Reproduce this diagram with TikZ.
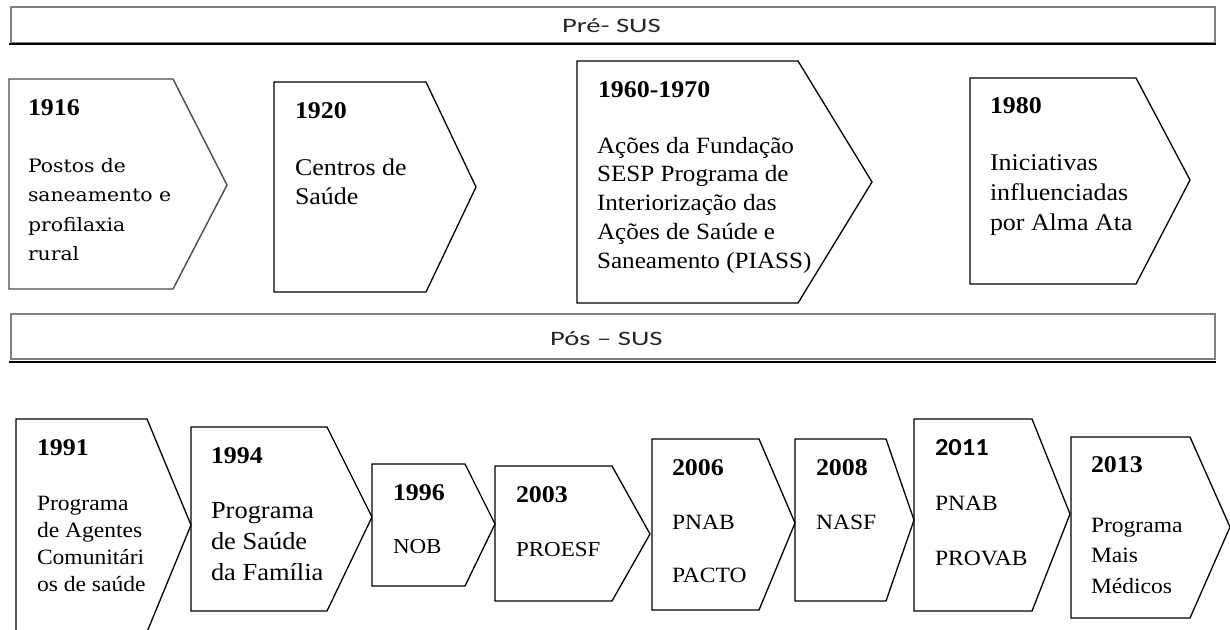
\documentclass[tikz,border=0pt]{standalone}
\usepackage{fontspec}
\setmainfont{Liberation Serif}[FakeStretch=1.08]
\newfontfamily\hdrfont{Carlito}[FakeStretch=1.4]
\newfontfamily\sansyr{Carlito}[FakeStretch=1.08]
\newfontfamily\oldfont{DejaVu Serif}[FakeStretch=1.1]
\newcommand\fs[2]{\fontsize{#1}{#2}\selectfont}
\newcommand\ml[1]{\begin{tabular}[t]{@{}l@{}}#1\end{tabular}}
% left, top, bottom, shoulder x, tip x, tip y
\newcommand\pent[7][pentline]{\draw[#1] (#2,#3) -- (#5,#3) -- (#6,#7) -- (#5,#4) -- (#2,#4) -- cycle;}
\begin{document}
\begin{tikzpicture}[x=1pt,y=-1pt,
  pentline/.style={draw=black,line width=1.3pt,line join=miter},
  oldline/.style={draw=black!70,line width=1.4pt,line join=miter},
  lbl/.style={anchor=base west,inner sep=0pt,outer sep=0pt},
  yrlbl/.style={lbl,font={\bfseries\fs{24}{28}}},
  hdr/.style={lbl,font={\hdrfont\fs{20.5}{24}},text=black!85},
]
\useasboundingbox (0,0) rectangle (1230,629);
\clip (0,0) rectangle (1230,629);
\fill[white] (0,0) rectangle (1230,629);

% header bars
\draw[gray,line width=1.2pt] (11,7) rectangle (1215,43);
\draw[black,line width=2.6pt] (9,44) -- (1216,44);
\node[hdr] (pre) at (562,32) {Pré- SUS};

\draw[gray,line width=1.2pt] (11,314) rectangle (1215,359);
\draw[black,line width=2.6pt] (9,362) -- (1216,362);
\node[hdr] (pos) at (550,345) {Pós – SUS};

% top row
\pent[oldline]{9}{79}{289}{173}{227}{185}
\node[yrlbl] (y1916) at (28,115) {1916};
\node[lbl,font={\oldfont\fs{18.5}{29.5}}] (t1916) at (28,172)
  {\ml{Postos de\\saneamento e\\profilaxia\\rural}};

\pent{274}{82}{292}{426}{476}{187}
\node[yrlbl] (y1920) at (295,118) {1920};
\node[lbl,font={\fs{24}{29}}] (t1920) at (295,175) {\ml{Centros de\\Saúde}};

\pent{577}{61}{303}{798}{872}{182}
\node[yrlbl] (y1960) at (598,97) {1960-1970};
\node[lbl,font={\fs{23.3}{28.75}}] (t1960) at (597,153)
  {\ml{Ações da Fundação\\SESP Programa de\\Interiorização das\\Ações de Saúde e\\Saneamento (PIASS)}};

\pent{970}{78}{284}{1136}{1190}{180}
\node[yrlbl] (y1980) at (990,113) {1980};
\node[lbl,font={\fs{24}{30}}] (t1980) at (990,170)
  {\ml{Iniciativas\\influenciadas\\por Alma Ata}};

% bottom row
\pent{16}{419}{632}{147}{191}{525}
\node[yrlbl] (y1991) at (37,455) {1991};
\node[lbl,font={\fs{21.8}{27.3}}] (t1991) at (37,510)
  {\ml{Programa\\de Agentes\\Comunitári\\os de saúde}};

\pent{191}{427}{611}{327}{372}{517}
\node[yrlbl] (y1994) at (211,463) {1994};
\node[lbl,font={\fs{24.5}{31}}] (t1994) at (211,518)
  {\ml{Programa\\de Saúde\\da Família}};

\pent{372}{464}{586}{465}{495}{524}
\node[yrlbl] (y1996) at (393,500) {1996};
\node[lbl,font={\fs{21.3}{26}}] (t1996) at (393,553) {NOB};

\pent{495}{466}{601}{612}{650}{534}
\node[yrlbl] (y2003) at (516,502) {2003};
\node[lbl,font={\fs{21.3}{26}}] (t2003) at (516,556) {PROESF};

\pent{652}{439}{610}{759}{795}{523}
\node[yrlbl] (y2006) at (672,475) {2006};
\node[lbl,font={\fs{21.8}{53}}] (t2006) at (672,529) {\ml{PNAB\\PACTO}};

\pent{795}{439}{601}{886}{914}{520}
\node[yrlbl] (y2008) at (816,475) {2008};
\node[lbl,font={\fs{21.8}{26}}] (t2008) at (816,529) {NASF};

\pent{914}{419}{611}{1032}{1070}{514}
\node[lbl,font={\sansyr\bfseries\fs{24.5}{28}}] (y2011) at (935,455) {2011};
\node[lbl,font={\fs{21.8}{55}}] (t2011) at (935,510) {\ml{PNAB\\PROVAB}};

\pent{1071}{437}{618}{1190}{1230}{527}
\node[yrlbl] (y2013) at (1091,472) {2013};
\node[lbl,font={\fs{21.8}{30.5}}] (t2013) at (1091,532)
  {\ml{Programa\\Mais\\Médicos}};
\end{tikzpicture}
\end{document}
